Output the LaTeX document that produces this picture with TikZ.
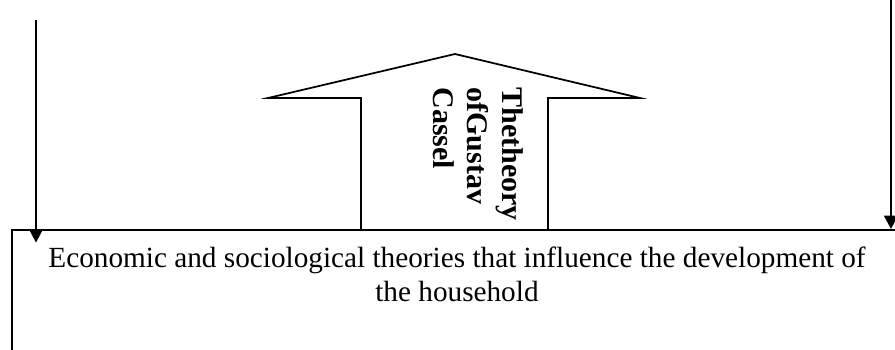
\documentclass[tikz,border=0pt]{standalone}
\usepackage{fontspec}
\setmainfont{Liberation Serif}
\usetikzlibrary{positioning,arrows.meta,calc}
\tikzstyle{ln}=[line width=0.7pt]
\tikzstyle{dn}=[ln,-{Triangle[width=5.6pt,length=5.4pt]}]

\begin{document}
\begin{tikzpicture}[x=0.4pt,y=-0.4pt,%
  every node/.style={inner sep=0pt,font=\fontsize{11.7}{13.8}\selectfont}]
\useasboundingbox (0,0) rectangle (895,349);
\clip (0,0) rectangle (895,349);
\tikzstyle{bx} = [draw,line width=0.9pt,anchor=north west,minimum width=356.8pt,minimum height=80pt]
% the big arrow pointing up
\draw[ln,fill=white] (361,229) -- (361,98) -- (268,98) -- (455,54)
  -- (640,98) -- (548,98) -- (548,229);
\node[bx](box)at(11,229){};
\node[anchor=north,align=center](hh)at(457,246)
  {Economic and sociological theories that influence the development of\\the household};
\node[anchor=north west,rotate=-90,align=left,
  font=\fontsize{12}{13.9}\selectfont\bfseries](cas)at(524,87)
  {Thetheory\\ofGustav\\Cassel};
\coordinate (la) at (36,20);
\coordinate (ra) at (891,0);
\draw[dn,shorten >=-5.4pt] (la) -- (la |- box.north);
\draw[dn] (ra) -- (ra |- box.north);
\end{tikzpicture}
\end{document}
